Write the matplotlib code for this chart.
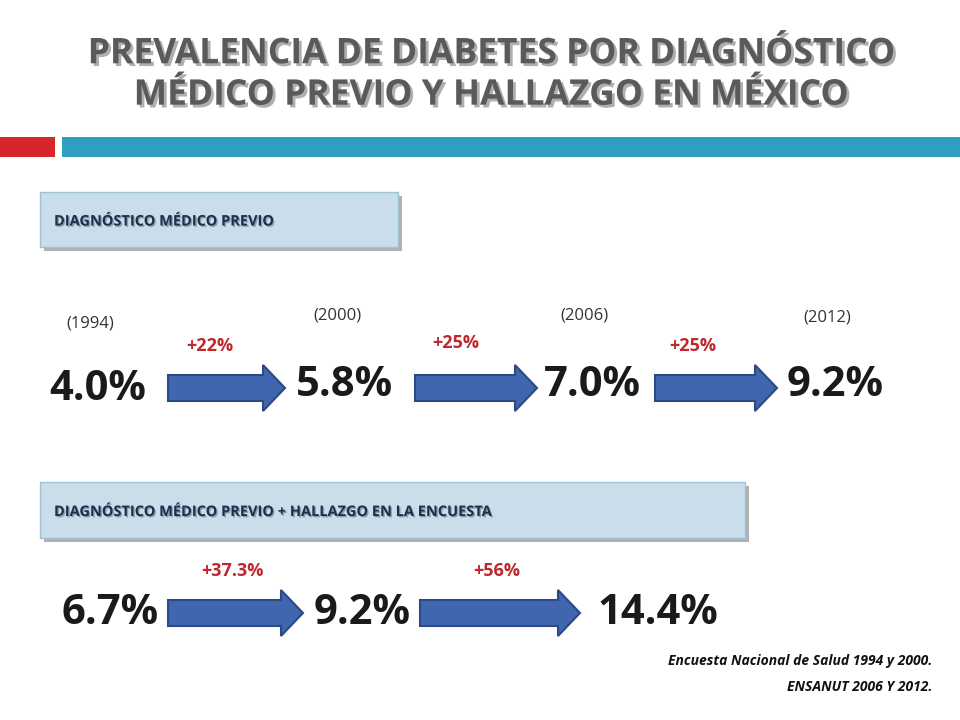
import matplotlib

matplotlib.use("Agg")
import matplotlib.pyplot as plt
import matplotlib.patheffects as pe
from matplotlib.patches import FancyArrow, Rectangle

# Row 1: diagnostico medico previo
years_1 = ["(1994)", "(2000)", "(2006)", "(2012)"]
values_1 = ["4.0%", "5.8%", "7.0%", "9.2%"]
changes_1 = ["+22%", "+25%", "+25%"]

# Row 2: diagnostico previo + hallazgo en la encuesta
values_2 = ["6.7%", "9.2%", "14.4%"]
changes_2 = ["+37.3%", "+56%"]

title = "PREVALENCIA DE DIABETES POR DIAGNÓSTICO\nMÉDICO PREVIO Y HALLAZGO EN MÉXICO"
source = ["Encuesta Nacional de Salud 1994 y 2000.", "ENSANUT 2006 Y 2012."]

FONT = "Open Sans"
NAVY = "#1F2D4F"
RED = "#C0282D"


def arrow(ax, x0, x1, y):
    ax.add_patch(FancyArrow(x0, y, x1 - x0, 0, width=26, head_width=46,
                            head_length=22, length_includes_head=True,
                            facecolor="#3F66AE", edgecolor="#2A4A85", lw=1.5))


def label_box(ax, x0, x1, y0, y1, text):
    ax.add_patch(Rectangle((x0 + 4, y0 + 4), x1 - x0, y1 - y0,
                           facecolor="#B0B0B0", edgecolor="none"))
    ax.add_patch(Rectangle((x0, y0), x1 - x0, y1 - y0,
                           facecolor="#C9DEEA", edgecolor="#9FC2D6", lw=1))
    ax.text(x0 + 14, (y0 + y1) / 2 + 2, text, fontsize=10.5, fontweight="bold",
            color=NAVY, family=FONT, va="center", ha="left",
            path_effects=[pe.withSimplePatchShadow(offset=(1, -1), alpha=0.3)])


fig = plt.figure(figsize=(9.6, 7.2), dpi=100)
ax = fig.add_axes([0, 0, 1, 1])
ax.set_xlim(0, 960)
ax.set_ylim(720, 0)
ax.axis("off")

ax.text(490, 75, title, ha="center", va="center", fontsize=25.5, fontweight="bold",
        color="#5A5A5A", family=FONT, linespacing=1.2,
        path_effects=[pe.withSimplePatchShadow(offset=(2, -2), alpha=0.35)])
ax.add_patch(Rectangle((0, 137), 55, 20, facecolor="#D7262B", edgecolor="none"))
ax.add_patch(Rectangle((62, 137), 898, 20, facecolor="#2E9FC1", edgecolor="none"))

label_box(ax, 40, 398, 192, 247, "DIAGNÓSTICO MÉDICO PREVIO")
label_box(ax, 40, 745, 482, 538,
          "DIAGNÓSTICO MÉDICO PREVIO + HALLAZGO EN LA ENCUESTA")

# row 1
val_x1 = [98, 345, 592, 835]
val_y1 = [390, 385, 385, 385]
year_y1 = [323, 316, 316, 318]
arr_x1 = [(168, 285), (415, 537), (655, 777)]
chg_pos1 = [(210, 346), (456, 343), (693, 346)]
for x, y, yy, v, yr in zip(val_x1, val_y1, year_y1, values_1, years_1):
    ax.text(x, y, v, ha="center", va="center", fontsize=30, fontweight="bold",
            color="#1A1A1A", family=FONT)
    ax.text(x - 8, yy, yr, ha="center", va="center",
            fontsize=12, color="#333333", family=FONT)
for (a, b), (cx, cy), c in zip(arr_x1, chg_pos1, changes_1):
    arrow(ax, a, b, 388)
    ax.text(cx, cy, c, ha="center", va="center", fontsize=13, fontweight="bold",
            color=RED, family=FONT)

# row 2
val_x2 = [110, 362, 658]
arr_x2 = [(168, 303), (420, 580)]
chg_pos2 = [(232, 571), (497, 571)]
for x, v in zip(val_x2, values_2):
    ax.text(x, 613, v, ha="center", va="center", fontsize=30, fontweight="bold",
            color="#1A1A1A", family=FONT)
for (a, b), (cx, cy), c in zip(arr_x2, chg_pos2, changes_2):
    arrow(ax, a, b, 613)
    ax.text(cx, cy, c, ha="center", va="center", fontsize=13, fontweight="bold",
            color=RED, family=FONT)

for i, line in enumerate(source):
    ax.text(932, 661 + 26 * i, line, ha="right", va="center", fontsize=10,
            fontweight="bold", style="italic", color="#111111", family=FONT)

fig.savefig("out.png", dpi=100)
